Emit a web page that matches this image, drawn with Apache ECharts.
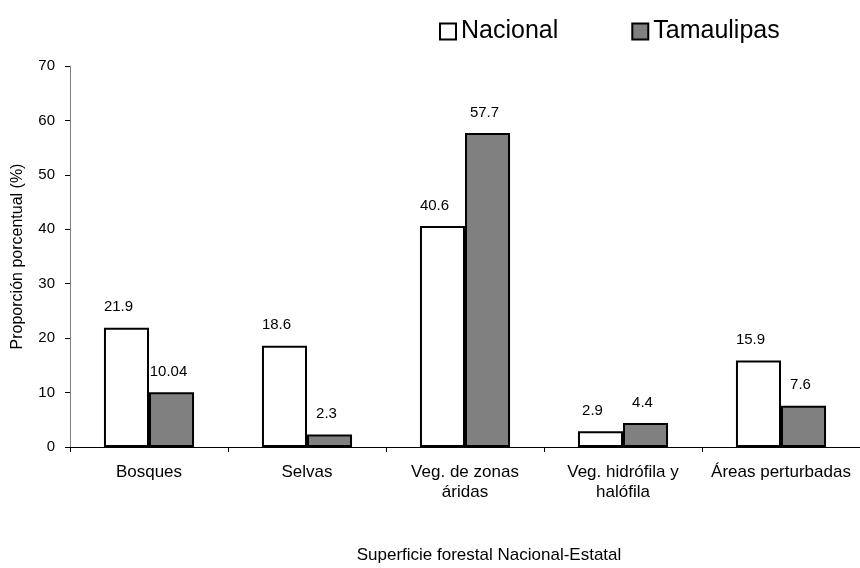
<!DOCTYPE html>
<html>
<head>
<meta charset="utf-8">
<script src="https://cdn.jsdelivr.net/npm/echarts@6/dist/echarts.min.js"></script>
<style>
  html, body { margin: 0; padding: 0; background: #fff; }
  #chart { width: 860px; height: 568px; }
</style>
</head>
<body>
<div id="chart"></div>
<script>
// Forest cover by vegetation type: national vs. Tamaulipas share (%)
const categories = ['Bosques', 'Selvas', 'Veg. de zonas\náridas', 'Veg. hidrófila y\nhalófila', 'Áreas perturbadas'];
const nacional = [21.9, 18.6, 40.6, 2.9, 15.9];
const tamaulipas = [10.04, 2.3, 57.7, 4.4, 7.6];
const nacionalLabels = ['21.9', '18.6', '40.6', '2.9', '15.9'];
const tamaulipasLabels = ['10.04', '2.3', '57.7', '4.4', '7.6'];

const font = 'Liberation Sans, Arial, sans-serif';
const chart = echarts.init(document.getElementById('chart'), null, { renderer: 'canvas' });

function labelFor(texts, dx) {
  return {
    show: true,
    position: 'top',
    distance: 13,
    offset: [dx, 0],
    color: '#000',
    fontSize: 15,
    fontFamily: font,
    formatter: p => texts[p.dataIndex]
  };
}

chart.setOption({
  backgroundColor: '#fff',
  animation: false,
  textStyle: { fontFamily: font },
  legend: {
    top: 14,
    left: 434,
    itemGap: 73,
    itemWidth: 16,
    itemHeight: 16,
    icon: 'rect',
    textStyle: { fontSize: 25, color: '#000', fontFamily: font },
    data: [
      { name: 'Nacional', itemStyle: { color: '#fff', borderColor: '#000', borderWidth: 2 } },
      { name: 'Tamaulipas', itemStyle: { color: '#808080', borderColor: '#000', borderWidth: 2 } }
    ]
  },
  grid: { left: 70, width: 797, top: 66, bottom: 121, containLabel: false },
  xAxis: {
    type: 'category',
    data: categories,
    axisLine: { lineStyle: { color: '#000', width: 1 } },
    axisTick: { show: true, alignWithLabel: false, length: 5, lineStyle: { color: '#000' } },
    axisLabel: { color: '#000', fontSize: 17, fontFamily: font, margin: 15, lineHeight: 20, interval: 0 },
    splitLine: { show: false }
  },
  yAxis: {
    type: 'value',
    min: 0,
    max: 70,
    interval: 10,
    name: 'Proporción porcentual (%)',
    nameLocation: 'middle',
    nameGap: 44,
    nameRotate: 90,
    nameTextStyle: { color: '#000', fontSize: 16, fontFamily: font },
    axisLine: { show: true, lineStyle: { color: '#808080', width: 1 } },
    axisTick: { show: true, inside: false, length: 5, lineStyle: { color: '#000' } },
    axisLabel: { color: '#000', fontSize: 15, fontFamily: font, margin: 15 },
    splitLine: { show: false }
  },
  series: [
    {
      name: 'Nacional',
      type: 'bar',
      data: nacional,
      barGap: '0%',
      barCategoryGap: '43%',
      itemStyle: { color: '#fff', borderColor: '#000', borderWidth: 2 },
      label: labelFor(nacionalLabels, -8)
    },
    {
      name: 'Tamaulipas',
      type: 'bar',
      data: tamaulipas,
      barGap: '0%',
      barCategoryGap: '43%',
      itemStyle: { color: '#808080', borderColor: '#000', borderWidth: 2 },
      label: labelFor(tamaulipasLabels, -3)
    }
  ],
  graphic: [
    {
      type: 'text',
      x: 489,
      y: 555,
      style: {
        text: 'Superficie forestal Nacional-Estatal',
        fill: '#000',
        font: '17px ' + font,
        textAlign: 'center',
        textVerticalAlign: 'middle'
      }
    }
  ]
});
</script>
</body>
</html>
